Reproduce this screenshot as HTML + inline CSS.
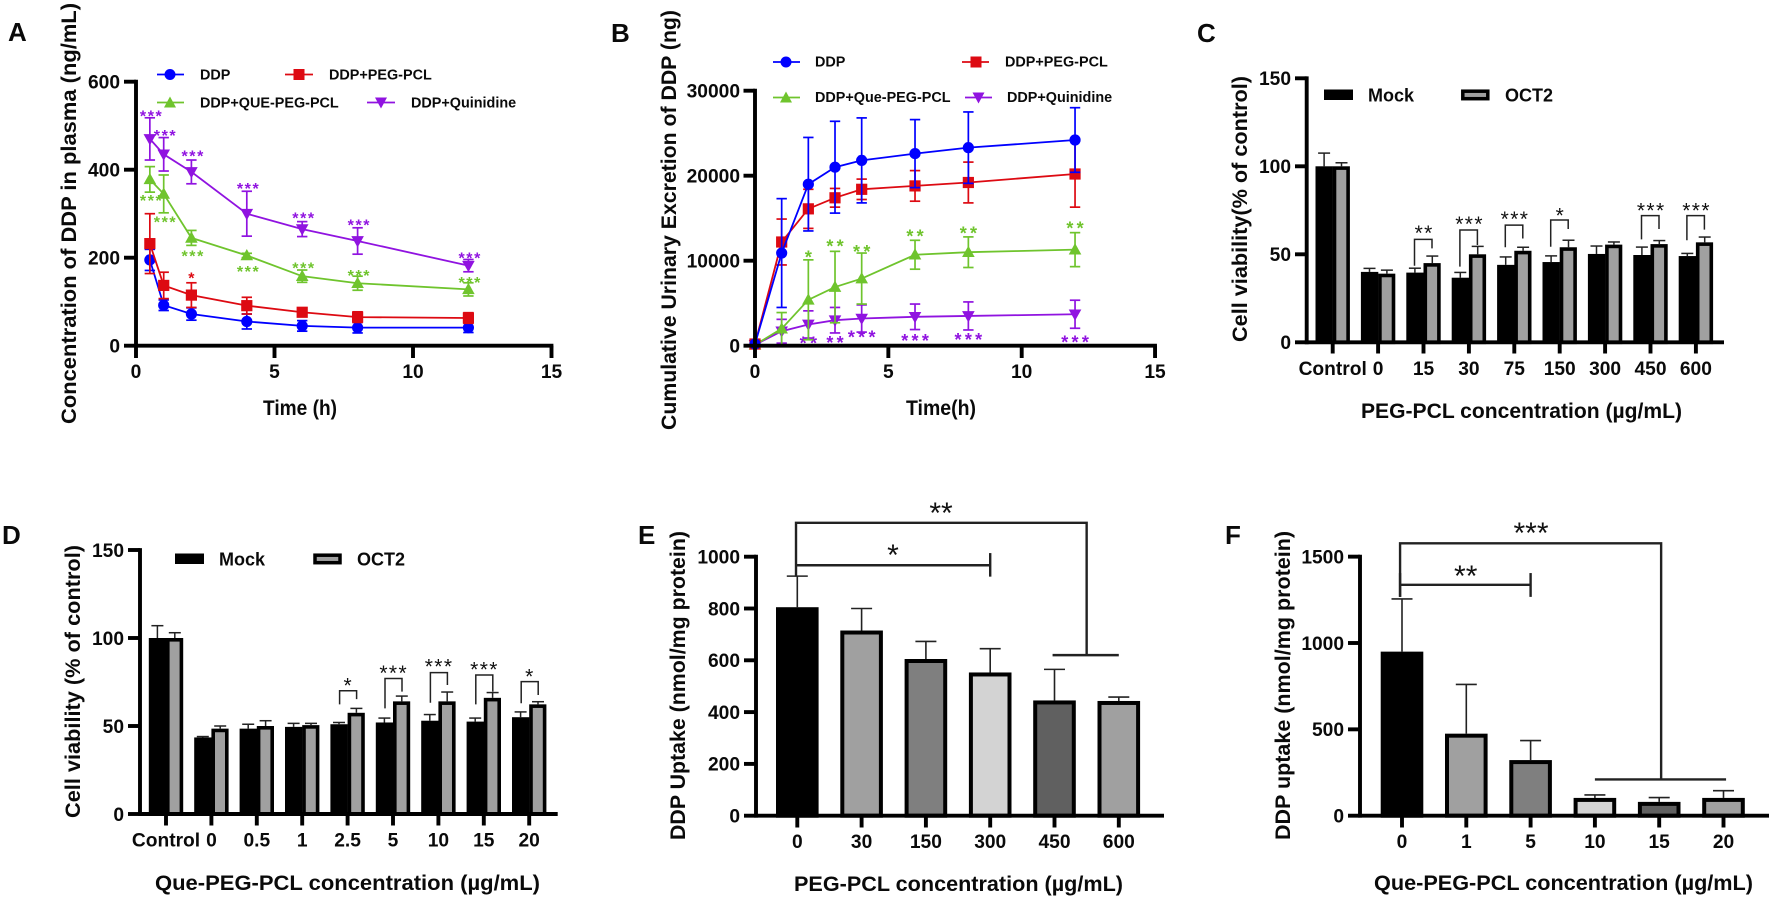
<!DOCTYPE html>
<html lang="en">
<head>
<meta charset="utf-8">
<title>DDP pharmacokinetics and uptake figure</title>
<style>
html,body{margin:0;padding:0;background:#fff;width:1772px;height:898px;overflow:hidden}
svg{display:block;filter:blur(0.35px)}
text{font-family:"Liberation Sans",Arial,sans-serif;font-weight:700;fill:#0a0a0a}
.letter{font-size:26px}
.ytitle,.xtitle{font-size:21px}
.leg{font-size:14.4px}
.legbar{font-size:18px}
</style>
</head>
<body>
<svg id="figure" xmlns="http://www.w3.org/2000/svg" width="1772" height="898" viewBox="0 0 1772 898">
  <rect x="0" y="0" width="1772" height="898" fill="#fff"/>

  <g id="panel-a">
    <text class="letter" x="8" y="41">A</text>
    <text class="ytitle" transform="translate(76,424) rotate(-90)" textLength="421" lengthAdjust="spacingAndGlyphs">Concentration of DDP in plasma (ng/mL)</text>
    <text class="xtitle" x="263" y="415" textLength="74" lengthAdjust="spacingAndGlyphs">Time (h)</text>
    <g>
      <g><line x1="157" y1="74.5" x2="184" y2="74.5" stroke="#0000ff" stroke-width="1.8"/><circle cx="170" cy="74.5" r="5.5" fill="#0000ff"/><text class="leg" x="200" y="79.5">DDP</text></g>
      <g><line x1="285" y1="74.5" x2="313" y2="74.5" stroke="#dd0a12" stroke-width="1.8"/><rect x="293.5" y="69" width="11" height="11" fill="#dd0a12"/><text class="leg" x="329" y="79.5">DDP+PEG-PCL</text></g>
      <g><line x1="157" y1="102.5" x2="184" y2="102.5" stroke="#6fc42d" stroke-width="1.8"/><polygon points="170,96.5 176,107.5 164,107.5" fill="#6fc42d"/><text class="leg" x="200" y="107.5">DDP+QUE-PEG-PCL</text></g>
      <g><line x1="367" y1="102.5" x2="395" y2="102.5" stroke="#9013e0" stroke-width="1.8"/><polygon points="375,97.5 387,97.5 381,108.5" fill="#9013e0"/><text class="leg" x="411" y="107.5">DDP+Quinidine</text></g>
    </g>
  </g>

  <g id="panel-b">
    <text class="letter" x="611" y="42">B</text>
    <text class="ytitle" transform="translate(676,430) rotate(-90)" textLength="420" lengthAdjust="spacingAndGlyphs">Cumulative Urinary Excretion of DDP (ng)</text>
    <text class="xtitle" x="906" y="415" textLength="70" lengthAdjust="spacingAndGlyphs">Time(h)</text>
    <g>
      <g><line x1="773" y1="62" x2="800" y2="62" stroke="#0000ff" stroke-width="1.8"/><circle cx="786" cy="62" r="5.5" fill="#0000ff"/><text class="leg" x="815" y="66.5">DDP</text></g>
      <g><line x1="962" y1="62" x2="989" y2="62" stroke="#dd0a12" stroke-width="1.8"/><rect x="970.5" y="56.5" width="11" height="11" fill="#dd0a12"/><text class="leg" x="1005" y="66.5">DDP+PEG-PCL</text></g>
      <g><line x1="773" y1="97.5" x2="800" y2="97.5" stroke="#6fc42d" stroke-width="1.8"/><polygon points="786,91.5 792,102.5 780,102.5" fill="#6fc42d"/><text class="leg" x="815" y="102">DDP+Que-PEG-PCL</text></g>
      <g><line x1="965" y1="97.5" x2="992" y2="97.5" stroke="#9013e0" stroke-width="1.8"/><polygon points="972.5,92.5 984.5,92.5 978.5,103.5" fill="#9013e0"/><text class="leg" x="1007" y="102">DDP+Quinidine</text></g>
    </g>
  </g>

  <g id="panel-c">
    <text class="letter" x="1197" y="42">C</text>
    <text class="ytitle" transform="translate(1247,342) rotate(-90)" textLength="266" lengthAdjust="spacingAndGlyphs">Cell viability(% of control)</text>
    <text class="xtitle" x="1361" y="418" textLength="321" lengthAdjust="spacingAndGlyphs">PEG-PCL concentration (µg/mL)</text>
    <g>
      <g><rect x="1324" y="89.5" width="29" height="10.5" fill="#000"/><text class="legbar" x="1368" y="101.5">Mock</text></g>
      <g><rect x="1462.8" y="91.2" width="25" height="7.5" fill="#a0a0a0" stroke="#000" stroke-width="3.5"/><text class="legbar" x="1505" y="101.5">OCT2</text></g>
    </g>
  </g>

  <g id="panel-d">
    <text class="letter" x="2" y="544">D</text>
    <text class="ytitle" transform="translate(80,818) rotate(-90)" textLength="273" lengthAdjust="spacingAndGlyphs">Cell viability (% of control)</text>
    <text class="xtitle" x="155" y="890" textLength="385" lengthAdjust="spacingAndGlyphs">Que-PEG-PCL concentration (µg/mL)</text>
    <g>
      <g><rect x="175" y="553.5" width="29" height="10.5" fill="#000"/><text class="legbar" x="219" y="565.5">Mock</text></g>
      <g><rect x="315" y="555.2" width="25" height="7.5" fill="#a0a0a0" stroke="#000" stroke-width="3.5"/><text class="legbar" x="357" y="565.5">OCT2</text></g>
    </g>
  </g>

  <g id="panel-e">
    <text class="letter" x="638" y="544">E</text>
    <text class="ytitle" transform="translate(685,840) rotate(-90)" textLength="309" lengthAdjust="spacingAndGlyphs">DDP Uptake (nmol/mg protein)</text>
    <text class="xtitle" x="794" y="891" textLength="329" lengthAdjust="spacingAndGlyphs">PEG-PCL concentration (µg/mL)</text>
  </g>

  <g id="panel-f">
    <text class="letter" x="1225" y="544">F</text>
    <text class="ytitle" transform="translate(1290,840) rotate(-90)" textLength="309" lengthAdjust="spacingAndGlyphs">DDP uptake (nmol/mg protein)</text>
    <text class="xtitle" x="1374" y="890" textLength="379" lengthAdjust="spacingAndGlyphs">Que-PEG-PCL concentration (µg/mL)</text>
  </g>
</svg>

<script>
// ---------- Panel A data ----------
const plasmaTimes = [0.5, 1, 2, 4, 6, 8, 12];
const plasmaDDP = [195, 92, 72, 55, 45, 41, 41];
const plasmaDDPErr = [24, 12, 14, 17, 12, 12, 11];
const plasmaPEG = [232, 137, 115, 91, 76, 65, 63];
const plasmaPEGErr = [68, 30, 28, 19, 10, 12, 12];
const plasmaQUE = [378, 345, 245, 205, 158, 142, 128];
const plasmaQUEErr = [29, 43, 17, 5, 14, 16, 15];
const plasmaQuin = [470, 435, 395, 300, 265, 238, 182];
const plasmaQuinErr = [48, 38, 27, 51, 17, 30, 14];
const plasmaQuinStars = [530, 486, 439, 365, 298, 282, 208];
const plasmaQUEStars = [338, 289, 212, 177, 185, 168, 152];
const plasmaPEGStarTimes = [2];
const plasmaPEGStars = [162];
const plasmaPEGStarLabels = ['*'];
const plasmaStarLabels = ['***', '***', '***', '***', '***', '***', '***'];
const plasmaYTicks = [0, 200, 400, 600];
const timeTicks = [0, 5, 10, 15];

// ---------- Panel B data ----------
const urineTimes = [0, 1, 2, 3, 4, 6, 8, 12];
const urineDDP = [200, 10900, 19000, 21000, 21800, 22600, 23300, 24200];
const urineDDPErr = [0, 6400, 5500, 5400, 5000, 4000, 4200, 3800];
const urinePEG = [200, 12200, 16100, 17400, 18400, 18800, 19200, 20200];
const urinePEGErr = [0, 2700, 2300, 1100, 1200, 1800, 2400, 3900];
const urineQue = [100, 2000, 5400, 6900, 7900, 10700, 11000, 11300];
const urineQueErr = [0, 1900, 4700, 4200, 3000, 1700, 1800, 2000];
const urineQuin = [100, 1700, 2500, 3000, 3200, 3400, 3500, 3700];
const urineQuinErr = [0, 1400, 1600, 1500, 1600, 1500, 1650, 1650];
const urineStarTimes = [2, 3, 4, 6, 8, 12];
const urineQueStars = [10860, 12150, 11530, 13330, 13690, 14270];
const urineQueStarLabels = ['*', '**', '**', '**', '**', '**'];
const urineQuinStars = [780, 820, 1450, 1060, 1180, 900];
const urineQuinStarLabels = ['**', '**', '***', '***', '***', '***'];
const urineYTicks = [0, 10000, 20000, 30000];

// ---------- Panel C data ----------
const pegCats = ['Control', '0', '15', '30', '75', '150', '300', '450', '600'];
const pegMock = [100, 40, 39.6, 36.7, 44, 45.6, 50.2, 49.6, 49];
const pegMockErr = [7.5, 2, 2.5, 3, 4.5, 3.5, 4.5, 4.5, 1.5];
const pegOct = [100, 39, 45, 50, 52, 54, 55.5, 55.8, 56.8];
const pegOctErr = [2, 2, 4, 4.5, 2, 4, 1.5, 2, 3];
const pegBracketCats = [2, 3, 4, 5, 7, 8];
const pegBracketTops = [58.5, 63.8, 66.6, 69.5, 72, 72];
const pegBracketLeftEnds = [43.5, 43, 54, 54.3, 58.5, 58];
const pegBracketRightEnds = [53.4, 55.3, 59, 64.4, 64.4, 64];
const pegStarLevels = [65, 70, 73, 75, 77.6, 77.6];
const pegStarLabels = ['**', '***', '***', '*', '***', '***'];
const viabilityTicks = [0, 50, 100, 150];

// ---------- Panel D data ----------
const queCats = ['Control', '0', '0.5', '1', '2.5', '5', '10', '15', '20'];
const queMock = [100, 43.5, 48.5, 49.5, 51, 52, 53, 52.5, 55];
const queMockErr = [7, 0.5, 2.5, 2, 1, 2.5, 3.5, 2, 3];
const queOct = [100, 48.5, 50, 50.5, 57.5, 64, 64, 66, 62.3];
const queOctErr = [3, 1.5, 3, 1, 2.5, 3, 5.3, 3, 1.5];
const queBracketCats = [4, 5, 6, 7, 8];
const queBracketTops = [70, 77, 80.3, 79, 75.2];
const queBracketLeftEnds = [62.3, 60, 63.2, 62.3, 62.9];
const queBracketRightEnds = [65.3, 69.5, 73.3, 69.5, 67.6];
const queStarLevels = [75.7, 83, 86.5, 85, 81];
const queStarLabels = ['*', '***', '***', '***', '*'];

// ---------- Panel E data ----------
const uptakePegCats = ['0', '30', '150', '300', '450', '600'];
const uptakePegValues = [805, 715, 605, 553, 445, 443];
const uptakePegErr = [120, 85, 68, 92, 120, 15];
const uptakePegYTicks = [0, 200, 400, 600, 800, 1000];

// ---------- Panel F data ----------
const uptakeQueCats = ['0', '1', '5', '10', '15', '20'];
const uptakeQueValues = [950, 475, 322, 103, 80, 103];
const uptakeQueErr = [305, 285, 113, 17, 25, 42];
const uptakeQueYTicks = [0, 500, 1000, 1500];
const uptakeBarFills = ['#000000', '#a0a0a0', '#7f7f7f', '#d3d3d3', '#606060', '#a0a0a0'];

// ---------- axis functions ----------
const xA = t => 136 + t * 27.7;
const yA = v => 345.7 - v * 0.44;
const xB = t => 755 + t * 26.67;
const yB = v => 345.7 - v * 0.0085;
const xC = i => 1332.7 + i * 45.4;
const yC = v => 342.3 - v * 1.76;
const xD = i => 166 + i * 45.4;
const yD = v => 814 - v * 1.76;
const xE = i => 797.3 + i * 64.3;
const yE = v => 815.7 - v * 0.259;
const xF = i => 1402 + i * 64.3;
const yF = v => 815.7 - v * 0.1727;

// ---------- helpers ----------
const NS = 'http://www.w3.org/2000/svg';
function make(parent, tag, attrs) {
  const el = document.createElementNS(NS, tag);
  for (const k in attrs) el.setAttribute(k, attrs[k]);
  parent.appendChild(el);
  return el;
}
function seg(parent, x1, y1, x2, y2, color, w, name) {
  const el = make(parent, 'line', {x1: x1, y1: y1, x2: x2, y2: y2, stroke: color, 'stroke-width': w});
  
  
  return el;
}
function label(parent, x, y, str, anchor, size, name) {
  const el = make(parent, 'text', {x: x, y: y, 'text-anchor': anchor, 'font-size': size});
  el.textContent = str;
  
  
  return el;
}
function stars(parent, x, yc, str, size, color, weight, spacing) {
  const el = make(parent, 'text', {x: x + spacing / 2, y: yc + size * 0.57, 'text-anchor': 'middle', 'font-size': size, 'letter-spacing': spacing});
  el.style.fill = color;
  el.style.fontWeight = weight;
  el.textContent = str;
  
  
}
function yAxis(g, ax, xStart, top, bottom, ticks, yFn, labelX) {
  seg(g, ax, top - 1.9, ax, bottom + 1.9, '#000', 3.9, 'y-axis-line');
  ticks.forEach(function (t) {
    seg(g, xStart, yFn(t), ax, yFn(t), '#000', 3.9, 'y-axis-tick');
    label(g, labelX, yFn(t) + 6.8, String(t), 'end', 19.2, 'y-tick-label');
  });
}
function xAxisBand(g, yBase, xLeft, xRight, cats, xFn, tickEnd, labelY) {
  seg(g, xLeft, yBase, xRight, yBase, '#000', 3.9, 'x-axis-line');
  cats.forEach(function (c, i) {
    seg(g, xFn(i), yBase, xFn(i), tickEnd, '#000', 3.9, 'x-axis-tick');
    label(g, xFn(i), labelY, c, 'middle', 19.2, 'x-tick-label');
  });
}
function xAxisValue(g, yBase, xLeft, ticks, xFn, tickEnd, labelY) {
  const xRight = xFn(ticks[ticks.length - 1]);
  seg(g, xLeft, yBase, xRight + 1.9, yBase, '#000', 3.9, 'x-axis-line');
  ticks.forEach(function (t) {
    seg(g, xFn(t), yBase, xFn(t), tickEnd, '#000', 3.9, 'x-axis-tick');
    label(g, xFn(t), labelY, String(t), 'middle', 19.2, 'x-tick-label');
  });
}
function marker(g, kind, x, y, color) {
  let el;
  if (kind === 'circle') el = make(g, 'circle', {cx: x, cy: y, r: 5.6, fill: color});
  if (kind === 'square') el = make(g, 'rect', {x: x - 5.6, y: y - 5.6, width: 11.2, height: 11.2, fill: color});
  if (kind === 'up') el = make(g, 'polygon', {points: [x, y - 6.5, x + 6.3, y + 4.8, x - 6.3, y + 4.8].join(' '), fill: color});
  if (kind === 'down') el = make(g, 'polygon', {points: [x - 6.3, y - 4.8, x + 6.3, y - 4.8, x, y + 6.5].join(' '), fill: color});
  
  
}
function lineSeries(panel, name, times, vals, errs, color, kind, xFn, yFn) {
  const g = make(panel, 'g', {});
  
  
  times.forEach(function (t, i) {
    if (!errs[i]) return;
    const x = xFn(t), hi = yFn(vals[i] + errs[i]), lo = yFn(vals[i] - errs[i]);
    seg(g, x, hi, x, lo, color, 1.7, 'error-bar');
    seg(g, x - 5.2, hi, x + 5.2, hi, color, 1.7, 'error-cap');
    seg(g, x - 5.2, lo, x + 5.2, lo, color, 1.7, 'error-cap');
  });
  const path = make(g, 'polyline', {
    points: times.map(function (t, i) { return xFn(t) + ',' + yFn(vals[i]); }).join(' '),
    fill: 'none', stroke: color, 'stroke-width': 1.8
  });
  
  
  times.forEach(function (t, i) { marker(g, kind, xFn(t), yFn(vals[i]), color); });
}
function groupedBars(panel, cats, mock, mockErr, oct, octErr, xFn, yFn) {
  cats.forEach(function (c, i) {
    const x = xFn(i), base = yFn(0);
    const mx = x - 8.6, ox = x + 8.8;
    seg(panel, mx, yFn(mock[i] + mockErr[i]), mx, yFn(mock[i]), '#222', 1.5, 'error-bar-mock');
    seg(panel, mx - 6, yFn(mock[i] + mockErr[i]), mx + 6, yFn(mock[i] + mockErr[i]), '#222', 1.5, 'error-cap-mock');
    seg(panel, ox, yFn(oct[i] + octErr[i]), ox, yFn(oct[i]), '#222', 1.5, 'error-bar-oct2');
    seg(panel, ox - 6, yFn(oct[i] + octErr[i]), ox + 6, yFn(oct[i] + octErr[i]), '#222', 1.5, 'error-cap-oct2');
    const b1 = make(panel, 'rect', {x: x - 17.2, y: yFn(mock[i]), width: 17.4, height: base - yFn(mock[i]), fill: '#000'});
    
    
    const b2 = make(panel, 'rect', {x: x + 1.8, y: yFn(oct[i]) + 1.8, width: 13.6, height: base - yFn(oct[i]) - 1.8, fill: '#a0a0a0', stroke: '#000', 'stroke-width': 3.6});
    
    
  });
}
function pairBrackets(panel, bCats, tops, lefts, rights, levels, labels, xFn, yFn, offL, offR) {
  bCats.forEach(function (c, i) {
    const x = xFn(c), xl = x + offL, xr = x + offR, t = yFn(tops[i]);
    const br = make(panel, 'polyline', {
      points: xl + ',' + yFn(lefts[i]) + ' ' + xl + ',' + t + ' ' + xr + ',' + t + ' ' + xr + ',' + yFn(rights[i]),
      fill: 'none', stroke: '#222', 'stroke-width': 1.5
    });
    
    
    stars(panel, x, yFn(levels[i]), labels[i], 21, '#111', 400, 1.4);
  });
}
function singleBars(panel, cats, vals, errs, xFn, yFn) {
  cats.forEach(function (c, i) {
    const x = xFn(i), top = yFn(vals[i]), hi = yFn(vals[i] + errs[i]);
    seg(panel, x, hi, x, top, '#222', 1.6, 'error-bar');
    seg(panel, x - 10.5, hi, x + 10.5, hi, '#222', 1.6, 'error-cap');
    const b = make(panel, 'rect', {x: x - 19.3, y: top + 2, width: 38.6, height: yFn(0) - top - 2, fill: uptakeBarFills[i], stroke: '#000', 'stroke-width': 4});
    
    
  });
}

// ---------- Panel A ----------
const gA = document.getElementById('panel-a');
plasmaTimes.forEach(function (t, i) {
  stars(gA, xA(t) + 1, yA(plasmaQUEStars[i]), plasmaStarLabels[i], 16, '#6fc42d', 700, 1.6);
});
plasmaTimes.forEach(function (t, i) {
  stars(gA, xA(t) + 1, yA(plasmaQuinStars[i]), plasmaStarLabels[i], 16, '#9013e0', 700, 1.6);
});
plasmaPEGStarTimes.forEach(function (t, i) {
  stars(gA, xA(t), yA(plasmaPEGStars[i]), plasmaPEGStarLabels[i], 16, '#dd0a12', 700, 0);
});
lineSeries(gA, 'ddp', plasmaTimes, plasmaDDP, plasmaDDPErr, '#0000ff', 'circle', xA, yA);
lineSeries(gA, 'ddp-peg-pcl', plasmaTimes, plasmaPEG, plasmaPEGErr, '#dd0a12', 'square', xA, yA);
lineSeries(gA, 'ddp-que-peg-pcl', plasmaTimes, plasmaQUE, plasmaQUEErr, '#6fc42d', 'up', xA, yA);
lineSeries(gA, 'ddp-quinidine', plasmaTimes, plasmaQuin, plasmaQuinErr, '#9013e0', 'down', xA, yA);
yAxis(gA, 136, 124, yA(600), yA(0), plasmaYTicks, yA, 120);
xAxisValue(gA, yA(0), 136, timeTicks, xA, 358, 378);

// ---------- Panel B ----------
const gB = document.getElementById('panel-b');
urineStarTimes.forEach(function (t, i) {
  stars(gB, xB(t), yB(urineQueStars[i]), urineQueStarLabels[i], 18, '#6fc42d', 700, 3.3);
  stars(gB, xB(t), yB(urineQuinStars[i]), urineQuinStarLabels[i], 18, '#9013e0', 700, 3.3);
});
lineSeries(gB, 'ddp-quinidine', urineTimes, urineQuin, urineQuinErr, '#9013e0', 'down', xB, yB);
lineSeries(gB, 'ddp-que-peg-pcl', urineTimes, urineQue, urineQueErr, '#6fc42d', 'up', xB, yB);
lineSeries(gB, 'ddp-peg-pcl', urineTimes, urinePEG, urinePEGErr, '#dd0a12', 'square', xB, yB);
lineSeries(gB, 'ddp', urineTimes, urineDDP, urineDDPErr, '#0000ff', 'circle', xB, yB);
yAxis(gB, 755, 743.5, yB(30000), yB(0), urineYTicks, yB, 740);
xAxisValue(gB, yB(0), 755, timeTicks, xB, 358, 378);

// ---------- Panel C ----------
const gC = document.getElementById('panel-c');
pairBrackets(gC, pegBracketCats, pegBracketTops, pegBracketLeftEnds, pegBracketRightEnds, pegStarLevels, pegStarLabels, xC, yC, -9, 8.5);
groupedBars(gC, pegCats, pegMock, pegMockErr, pegOct, pegOctErr, xC, yC);
yAxis(gC, 1306.7, 1295, yC(150), yC(0), viabilityTicks, yC, 1291);
xAxisBand(gC, yC(0), 1306.7, 1724, pegCats, xC, 353.5, 375);

// ---------- Panel D ----------
const gD = document.getElementById('panel-d');
pairBrackets(gD, queBracketCats, queBracketTops, queBracketLeftEnds, queBracketRightEnds, queStarLevels, queStarLabels, xD, yD, -8, 9);
groupedBars(gD, queCats, queMock, queMockErr, queOct, queOctErr, xD, yD);
yAxis(gD, 140, 128, yD(150), yD(0), viabilityTicks, yD, 124);
xAxisBand(gD, yD(0), 140, 557.7, queCats, xD, 825.5, 846.7);

// ---------- Panel E ----------
const gE = document.getElementById('panel-e');
singleBars(gE, uptakePegCats, uptakePegValues, uptakePegErr, xE, yE);
yAxis(gE, 756, 744, yE(1000), yE(0), uptakePegYTicks, yE, 740);
xAxisBand(gE, yE(0), 756, 1164, uptakePegCats, xE, 827.5, 848);
const eOuter = make(gE, 'polyline', {
  points: xE(-0.02) + ',' + yE(923) + ' ' + xE(-0.02) + ',' + yE(1131) + ' ' + xE(4.5) + ',' + yE(1131) + ' ' + xE(4.5) + ',' + yE(620),
  fill: 'none', stroke: '#222', 'stroke-width': 2.4
});


seg(gE, xE(3.97), yE(620), xE(5), yE(620), '#222', 2.4, 'group-bar');
seg(gE, xE(-0.02), yE(967), xE(3), yE(967), '#222', 2.4, 'significance-bracket');
seg(gE, xE(3), yE(1014), xE(3), yE(923), '#222', 2.4, 'bracket-end-cap');
stars(gE, 941, yE(1196), '**', 30, '#111', 400, 0);
stars(gE, 893, yE(1034), '*', 30, '#111', 400, 0);

// ---------- Panel F ----------
const gF = document.getElementById('panel-f');
singleBars(gF, uptakeQueCats, uptakeQueValues, uptakeQueErr, xF, yF);
yAxis(gF, 1360, 1348, yF(1500), yF(0), uptakeQueYTicks, yF, 1344);
xAxisBand(gF, yF(0), 1360, 1769, uptakeQueCats, xF, 827.5, 848);
const fOuter = make(gF, 'polyline', {
  points: xF(-0.03) + ',' + yF(1267) + ' ' + xF(-0.03) + ',' + yF(1577) + ' ' + xF(4.03) + ',' + yF(1577) + ' ' + xF(4.03) + ',' + yF(210),
  fill: 'none', stroke: '#222', 'stroke-width': 2.4
});


seg(gF, xF(3), yF(210), xF(5.04), yF(210), '#222', 2.4, 'group-bar');
seg(gF, xF(-0.03), yF(1337), xF(2), yF(1337), '#222', 2.4, 'significance-bracket');
seg(gF, xF(2), yF(1405), xF(2), yF(1267), '#222', 2.4, 'bracket-end-cap');
seg(gF, xF(-0.03), yF(1405), xF(-0.03), yF(1267), '#222', 2.4, 'bracket-end-cap');
stars(gF, 1531, yF(1678), '***', 30, '#111', 400, 0);
stars(gF, 1465.7, yF(1430), '**', 30, '#111', 400, 0);
</script>
</body>
</html>
